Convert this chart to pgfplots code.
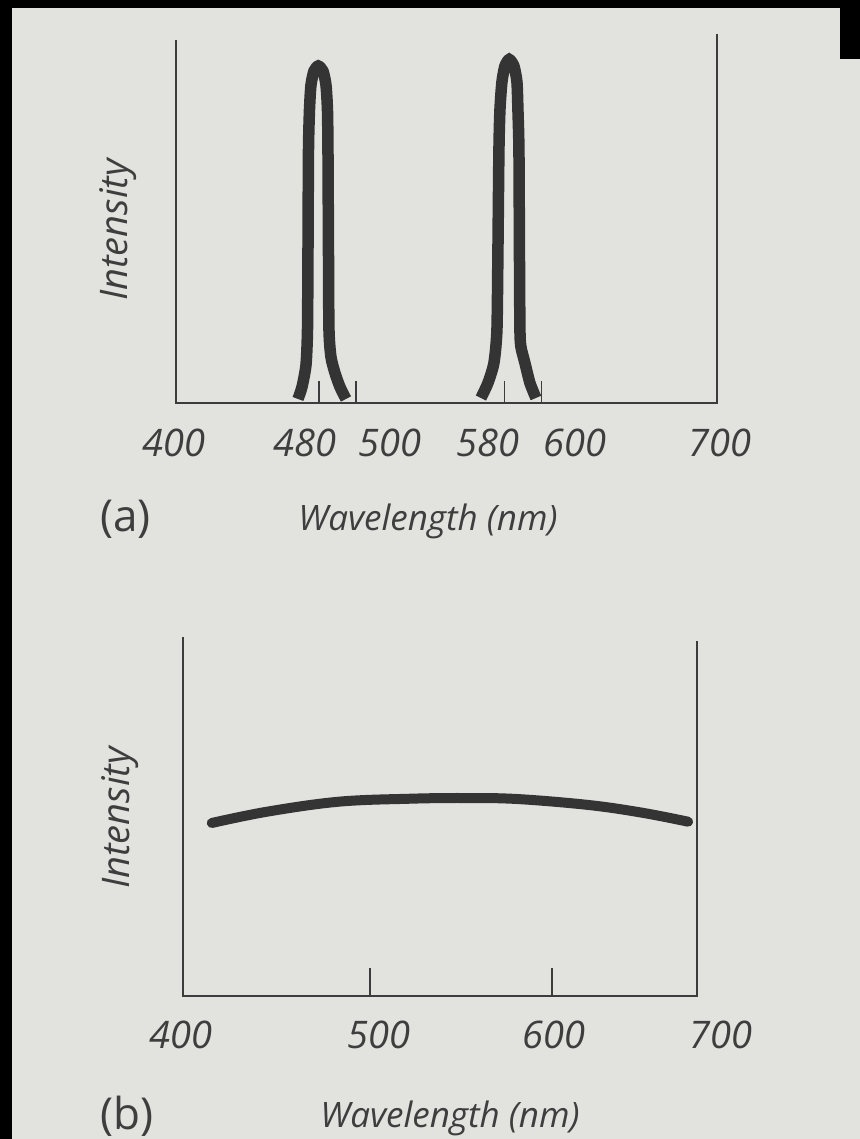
\documentclass[border=0pt]{standalone}
\usepackage{pgfplots}
\pgfplotsset{compat=1.18}
\usepackage{fontspec}
\setmainfont{Open Sans}
\definecolor{bg}{RGB}{226,226,223}
\definecolor{ink}{RGB}{52,52,52}
\definecolor{axc}{RGB}{60,60,60}
\definecolor{txt}{RGB}{62,62,62}
\tikzset{
  numlab/.style={font=\fontsize{19}{21}\selectfont\itshape, text=txt, inner sep=0pt},
  wlab/.style={font=\fontsize{17.5}{20}\selectfont\itshape, text=txt, inner sep=0pt},
  ilab/.style={font=\fontsize{19}{21}\selectfont\itshape, text=txt, inner sep=0pt},
  plab/.style={font=\fontsize{22}{24}\selectfont, text=txt, inner sep=0pt}
}
\pgfplotsset{
  spec/.style={
    scale only axis, clip=false,
    axis line style={draw=none},
    ytick=\empty, xticklabels={},
    xtick pos=bottom, tick align=inside,
    major tick length=11pt,
    every tick/.style={axc, line width=0.8pt},
  }
}
\begin{document}
\begin{tikzpicture}
\useasboundingbox (0pt,0pt) rectangle (430pt,569.5pt);
\clip (0pt,0pt) rectangle (430pt,569.5pt);
\fill[bg] (0pt,0pt) rectangle (430pt,569.5pt);
\fill[black] (0pt,565.5pt) rectangle (430pt,569.5pt);
\fill[black] (0pt,0pt) rectangle (6pt,569.5pt);
\fill[black] (420pt,540pt) rectangle (430pt,569.5pt);

% ---------- (a) ----------
\begin{axis}[spec, at={(88pt,368pt)}, anchor=south west,
  width=270.5pt, height=182.5pt,
  xmin=403, xmax=694.6, ymin=0, ymax=100,
  xtick={480,500,580,600}]
\draw[axc, line width=1pt] (rel axis cs:0,0.995) -- (rel axis cs:0,0) -- (rel axis cs:1,0) -- (rel axis cs:1,1.01);
\addplot[ink, line width=5.75pt, smooth, tension=0.4] coordinates {
(468.75,1.10) (470.90,4.38) (473.06,10.41) (473.87,20.0) (474.14,41.92)
(474.41,69.32) (474.94,80.27) (475.75,87.12) (477.37,90.96) (479.69,92.33)
(482.22,90.96) (483.83,87.12) (484.64,80.27) (484.91,69.32) (485.18,41.92)
(485.45,20.0) (486.53,12.60) (488.69,8.22) (491.38,4.38) (494.61,1.10)};
\addplot[ink, line width=5.75pt, smooth, tension=0.4] coordinates {
(567.36,1.37) (571.13,5.48) (574.36,10.96) (575.98,20.0) (576.52,41.92)
(577.06,69.32) (577.60,80.27) (578.67,87.95) (580.29,92.33) (582.61,94.11)
(585.14,92.33) (586.76,87.95) (587.30,80.27) (587.84,69.32) (588.11,41.92)
(588.38,20.0) (588.92,15.34) (591.07,10.96) (593.77,5.48) (597.00,1.37)};
\node[numlab] at ([yshift=-20pt]axis cs:401.9,0) {400};
\node[numlab] at ([yshift=-20pt]axis cs:472.5,0) {480};
\node[numlab] at ([yshift=-20pt]axis cs:518.3,0) {500};
\node[numlab] at ([yshift=-20pt]axis cs:571.1,0) {580};
\node[numlab] at ([yshift=-20pt]axis cs:618.0,0) {600};
\node[numlab] at ([yshift=-20pt]axis cs:696.1,0) {700};
\end{axis}
\node[plab, anchor=base west] at (50pt,303.5pt) {(a)};
\node[wlab, anchor=base] at (214pt,304pt) {Wavelength (nm)};
\node[ilab, rotate=90] at (59pt,454.5pt) {Intensity};

% ---------- (b) ----------
\begin{axis}[spec, at={(91.5pt,71.5pt)}, anchor=south west,
  width=257pt, height=179.5pt,
  xmin=397.3, xmax=679.7, ymin=0, ymax=100,
  xtick={500,600}, major tick length=14pt]
\draw[axc, line width=1pt] (rel axis cs:0,1) -- (rel axis cs:0,0) -- (rel axis cs:1,0) -- (rel axis cs:1,0.99);
\addplot[ink, line width=5pt, smooth, tension=0.6, line cap=round] coordinates {
(413.1,48.19) (443.5,51.34) (482.8,54.12) (522.0,54.95) (551.5,55.15)
(580.8,54.87) (620.2,53.20) (649.5,51.06) (674.8,48.55)};
\node[numlab] at ([yshift=-19.5pt]axis cs:396.0,0) {400};
\node[numlab] at ([yshift=-19.5pt]axis cs:505.0,0) {500};
\node[numlab] at ([yshift=-19.5pt]axis cs:601.0,0) {600};
\node[numlab] at ([yshift=-19.5pt]axis cs:693.0,0) {700};
\end{axis}
\node[plab, anchor=base west] at (50pt,5pt) {(b)};
\node[wlab, anchor=base] at (225pt,5.5pt) {Wavelength (nm)};
\node[ilab, rotate=90] at (60pt,160.5pt) {Intensity};
\end{tikzpicture}
\end{document}
